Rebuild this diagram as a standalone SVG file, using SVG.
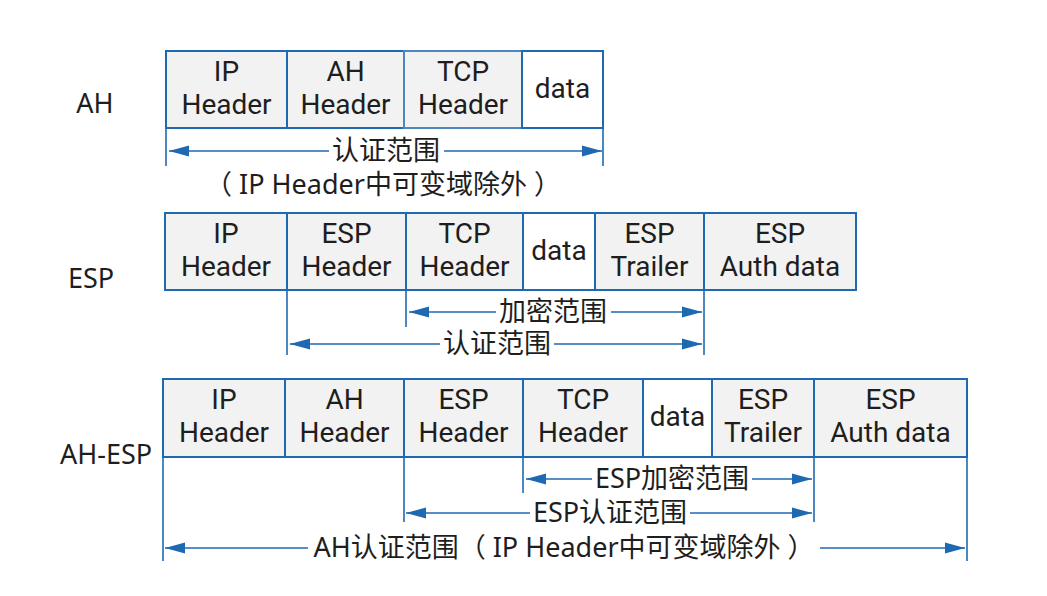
<svg xmlns="http://www.w3.org/2000/svg" width="1047" height="596" viewBox="0 0 1047 596">
  <style>
    .box { fill: #f2f2f2; stroke: #1f69b3; stroke-width: 2; }
    .wbox { fill: #ffffff; stroke: #1f69b3; stroke-width: 2; }
    .t { font-family: Roboto, "Noto Sans", sans-serif; font-size: 28px; fill: #1e1e1e; text-anchor: middle; }
    .lbl { font-family: "Noto Sans", "Noto Sans CJK SC", sans-serif; font-size: 27px; fill: #1e1e1e; text-anchor: middle; }
    .ext { stroke: #1f69b3; stroke-width: 1.6; fill: none; }
    .arr { stroke: #1f69b3; stroke-width: 1.6; fill: none; marker-end: url(#ah); }
  </style>
  <defs>
    <marker id="ah" markerUnits="userSpaceOnUse" markerWidth="20" markerHeight="12" refX="20" refY="6" orient="auto" viewBox="0 0 20 12">
      <path d="M0,0.5 L20,6 L0,11.5 z" fill="#1f69b3"/>
    </marker>
  </defs>
  <rect width="1047" height="596" fill="#ffffff"/>

  <!-- Row labels -->
  <g id="label-ah"><text class="lbl" x="95" y="113">AH</text></g>
  <g id="label-esp"><text class="lbl" x="91" y="288">ESP</text></g>
  <g id="label-ahesp"><text class="lbl" x="106" y="464">AH-ESP</text></g>

  <!-- Row 1: AH -->
  <g id="ah-ip"><rect class="box" x="166" y="51" width="121" height="77"/><text class="t" x="226.5" y="81">IP<tspan x="226.5" dy="33">Header</tspan></text></g>
  <g id="ah-ah"><rect class="box" x="287" y="51" width="117" height="77"/><text class="t" x="345.5" y="81">AH<tspan x="345.5" dy="33">Header</tspan></text></g>
  <g id="ah-tcp"><rect class="box" x="404" y="51" width="118" height="77" style="stroke:#4f86bd"/><text class="t" x="463" y="81">TCP<tspan x="463" dy="33">Header</tspan></text></g>
  <g id="ah-data"><rect class="wbox" x="522" y="51" width="81" height="77"/><text class="t" x="562.5" y="98">data</text></g>

  <!-- Row 2: ESP -->
  <g id="esp-ip"><rect class="box" x="165" y="213" width="122" height="77"/><text class="t" x="226" y="243">IP<tspan x="226" dy="33">Header</tspan></text></g>
  <g id="esp-esph"><rect class="box" x="287" y="213" width="119" height="77"/><text class="t" x="346.5" y="243">ESP<tspan x="346.5" dy="33">Header</tspan></text></g>
  <g id="esp-tcp"><rect class="box" x="406" y="213" width="117" height="77"/><text class="t" x="464.5" y="243">TCP<tspan x="464.5" dy="33">Header</tspan></text></g>
  <g id="esp-data"><rect class="wbox" x="523" y="213" width="72" height="77"/><text class="t" x="559" y="260">data</text></g>
  <g id="esp-trailer"><rect class="box" x="595" y="213" width="109" height="77"/><text class="t" x="649.5" y="243">ESP<tspan x="649.5" dy="33">Trailer</tspan></text></g>
  <g id="esp-auth"><rect class="box" x="704" y="213" width="152" height="77"/><text class="t" x="780" y="243">ESP<tspan x="780" dy="33">Auth data</tspan></text></g>

  <!-- Row 3: AH-ESP -->
  <g id="ahesp-ip"><rect class="box" x="163" y="379" width="122" height="78"/><text class="t" x="224" y="409">IP<tspan x="224" dy="33">Header</tspan></text></g>
  <g id="ahesp-ah"><rect class="box" x="285" y="379" width="119" height="78"/><text class="t" x="344.5" y="409">AH<tspan x="344.5" dy="33">Header</tspan></text></g>
  <g id="ahesp-esph"><rect class="box" x="404" y="379" width="119" height="78"/><text class="t" x="463.5" y="409">ESP<tspan x="463.5" dy="33">Header</tspan></text></g>
  <g id="ahesp-tcp"><rect class="box" x="523" y="379" width="120" height="78"/><text class="t" x="583" y="409">TCP<tspan x="583" dy="33">Header</tspan></text></g>
  <g id="ahesp-data"><rect class="wbox" x="643" y="379" width="69" height="78"/><text class="t" x="677.5" y="426">data</text></g>
  <g id="ahesp-trailer"><rect class="box" x="712" y="379" width="102" height="78"/><text class="t" x="763" y="409">ESP<tspan x="763" dy="33">Trailer</tspan></text></g>
  <g id="ahesp-auth"><rect class="box" x="814" y="379" width="153" height="78"/><text class="t" x="890.5" y="409">ESP<tspan x="890.5" dy="33">Auth data</tspan></text></g>

  <!-- Connectors: extension lines and range arrows -->
  <g id="connectors">
    <!-- Row 1 -->
    <line class="ext" x1="166" y1="128" x2="166" y2="166"/>
    <line class="ext" x1="603" y1="128" x2="603" y2="166"/>
    <line class="arr" x1="329" y1="151" x2="169" y2="151"/>
    <line class="arr" x1="444" y1="151" x2="602" y2="151"/>
    <text class="lbl" x="386" y="160">认证范围<tspan x="383" dy="34">（ IP Header中可变域除外 ）</tspan></text>

    <!-- Row 2 -->
    <line class="ext" x1="287" y1="290" x2="287" y2="355"/>
    <line class="ext" x1="406" y1="290" x2="406" y2="327"/>
    <line class="ext" x1="704" y1="290" x2="704" y2="355"/>
    <line class="arr" x1="496" y1="312" x2="409" y2="312"/>
    <line class="arr" x1="611" y1="312" x2="702" y2="312"/>
    <text class="lbl" x="553" y="321">加密范围</text>
    <line class="arr" x1="440" y1="344" x2="290" y2="344"/>
    <line class="arr" x1="554" y1="344" x2="702" y2="344"/>
    <text class="lbl" x="497" y="353">认证范围</text>

    <!-- Row 3 -->
    <line class="ext" x1="163" y1="457" x2="163" y2="561"/>
    <line class="ext" x1="404" y1="457" x2="404" y2="522"/>
    <line class="ext" x1="523" y1="457" x2="523" y2="493"/>
    <line class="ext" x1="814" y1="457" x2="814" y2="522"/>
    <line class="ext" x1="967" y1="457" x2="967" y2="561"/>
    <line class="arr" x1="592" y1="479" x2="526" y2="479"/>
    <line class="arr" x1="752" y1="479" x2="812" y2="479"/>
    <text class="lbl" x="672" y="488">ESP加密范围</text>
    <line class="arr" x1="530" y1="513" x2="406" y2="513"/>
    <line class="arr" x1="690" y1="513" x2="812" y2="513"/>
    <text class="lbl" x="610" y="522">ESP认证范围</text>
    <line class="arr" x1="308" y1="548" x2="165" y2="548"/>
    <line class="arr" x1="820" y1="548" x2="965" y2="548"/>
    <text class="lbl" x="564" y="557">AH认证范围（ IP Header中可变域除外 ）</text>
  </g>
</svg>
